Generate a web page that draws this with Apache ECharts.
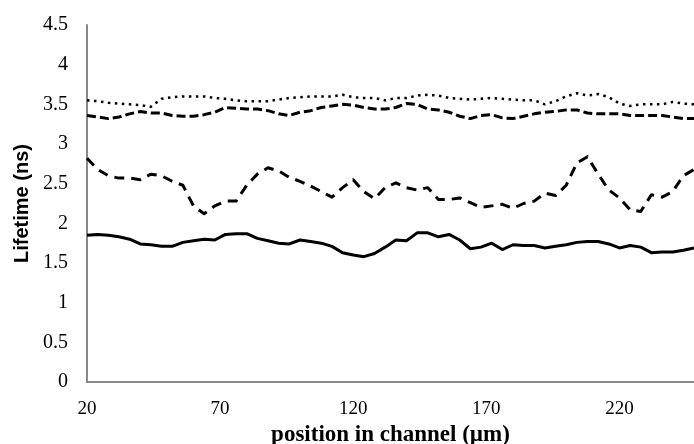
<!DOCTYPE html>
<html><head><meta charset="utf-8">
<script src="https://cdn.jsdelivr.net/npm/echarts@6/dist/echarts.min.js"></script>
<style>html,body{margin:0;padding:0;background:#fff}#c{width:694px;height:444px}</style>
</head><body><div id="c"></div>
<script>
const positions = [20,24,28,32,36,40,44,48,52,56,60,64,68,72,76,80,84,88,92,96,100,104,108,112,116,120,124,128,132,136,140,144,148,152,156,160,164,168,172,176,180,184,188,192,196,200,204,208,212,216,220,224,228,232,236,240,244,248];
const solidSeries = [1.85,1.86,1.85,1.83,1.80,1.74,1.73,1.71,1.71,1.76,1.78,1.80,1.79,1.86,1.87,1.87,1.81,1.78,1.75,1.74,1.79,1.77,1.75,1.71,1.63,1.60,1.58,1.62,1.70,1.79,1.78,1.88,1.88,1.83,1.86,1.79,1.68,1.70,1.75,1.67,1.73,1.72,1.72,1.69,1.71,1.73,1.76,1.77,1.77,1.74,1.69,1.72,1.70,1.63,1.64,1.64,1.66,1.69];
const longDashSeries = [2.82,2.68,2.60,2.57,2.57,2.55,2.62,2.60,2.53,2.48,2.22,2.12,2.22,2.28,2.28,2.48,2.62,2.70,2.66,2.58,2.53,2.47,2.40,2.33,2.45,2.55,2.40,2.31,2.45,2.51,2.45,2.42,2.45,2.30,2.30,2.32,2.26,2.20,2.22,2.24,2.19,2.25,2.28,2.38,2.35,2.48,2.76,2.84,2.62,2.42,2.32,2.17,2.15,2.36,2.33,2.40,2.60,2.68];
const mediumDashSeries = [3.36,3.34,3.32,3.34,3.38,3.41,3.39,3.39,3.36,3.35,3.35,3.37,3.40,3.46,3.45,3.44,3.44,3.42,3.38,3.36,3.40,3.42,3.46,3.48,3.50,3.49,3.46,3.44,3.44,3.46,3.51,3.50,3.44,3.43,3.40,3.35,3.32,3.36,3.37,3.33,3.32,3.35,3.38,3.40,3.41,3.43,3.43,3.39,3.38,3.38,3.38,3.36,3.36,3.36,3.36,3.34,3.32,3.32];
const dottedSeries = [3.55,3.54,3.52,3.51,3.50,3.49,3.47,3.57,3.59,3.60,3.60,3.60,3.58,3.57,3.55,3.54,3.54,3.54,3.56,3.58,3.59,3.60,3.60,3.60,3.62,3.59,3.58,3.58,3.55,3.58,3.58,3.61,3.62,3.61,3.58,3.57,3.56,3.57,3.58,3.57,3.56,3.55,3.55,3.50,3.54,3.60,3.64,3.61,3.63,3.59,3.51,3.48,3.50,3.50,3.50,3.53,3.51,3.50];
const xTicks = [20,70,120,170,220];
const yTicks = [0,0.5,1,1.5,2,2.5,3,3.5,4,4.5];

const pairs = arr => positions.map((x,i)=>[x,arr[i]]);
function line(name, arr, width, dash){
  return {name, type:'line', data:pairs(arr), showSymbol:false, symbol:'none', smooth:false,
    lineStyle:{color:'#000', width, type:dash, cap:'butt', join:'round'}, animation:false};
}
const chart = echarts.init(document.getElementById('c'));
chart.setOption({
  animation:false,
  grid:{left:87, right:0, top:25, bottom:62, containLabel:false, outerBoundsMode:'none'},
  xAxis:{type:'value', min:20, max:248, interval:50,
    name:'position in channel (µm)', nameLocation:'middle', nameGap:42,
    nameTextStyle:{fontFamily:'Liberation Serif', fontWeight:'bold', fontSize:23, color:'#000'},
    axisLine:{lineStyle:{color:'#898989', width:2}}, axisTick:{show:false}, splitLine:{show:false},
    axisLabel:{showMaxLabel:false, margin:18, fontFamily:'Liberation Serif', fontSize:19, color:'#000',
      formatter:v=> xTicks.includes(v) ? String(v) : ''}},
  yAxis:{type:'value', min:0, max:4.5, interval:0.5,
    name:'Lifetime (ns)', nameLocation:'middle', nameGap:54,
    nameTextStyle:{fontFamily:'Liberation Sans', fontWeight:'bold', fontSize:20, color:'#000'},
    axisLine:{show:true, lineStyle:{color:'#898989', width:2}}, axisTick:{show:false}, splitLine:{show:false},
    axisLabel:{margin:19, fontFamily:'Liberation Serif', fontSize:20, color:'#000',
      formatter:v=> yTicks.includes(v) ? String(v) : ''}},
  series:[
    line('solid', solidSeries, 3, 'solid'),
    line('long dash', longDashSeries, 3, [10,7]),
    line('medium dash', mediumDashSeries, 3, [9,4]),
    line('dotted', dottedSeries, 2.5, [2.5,4.5])
  ]
});
</script></body></html>
